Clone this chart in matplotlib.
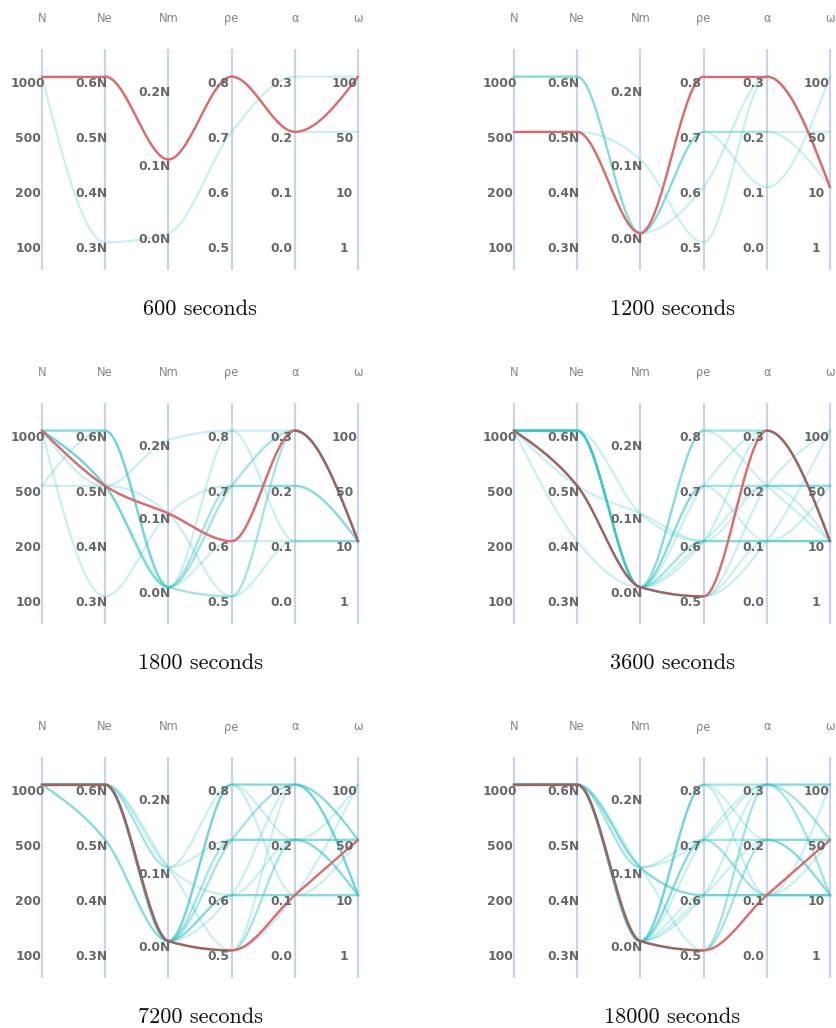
import numpy as np
import matplotlib.pyplot as plt

# axes of the parallel plot and their categories (bottom -> top)
axis_names = ['N', 'Ne', 'Nm', 'ρe', 'α', 'ω']
N_levels = ['100', '200', '500', '1000']
Ne_levels = ['0.3N', '0.4N', '0.5N', '0.6N']
Nm_levels = ['0.0N', '0.1N', '0.2N']
rho_levels = ['0.5', '0.6', '0.7', '0.8']
alpha_levels = ['0.0', '0.1', '0.2', '0.3']
omega_levels = ['1', '10', '50', '100']
levels = [N_levels, Ne_levels, Nm_levels, rho_levels, alpha_levels, omega_levels]

captions = ['600 seconds', '1200 seconds', '1800 seconds',
            '3600 seconds', '7200 seconds', '18000 seconds']

# best trial of each budget (highlighted)
best_600 = ('1000', '0.6N', '0.1N', '0.8', '0.2', '100')
best_1200 = ('500', '0.5N', '0.0N', '0.8', '0.3', '10')
best_1800 = ('1000', '0.5N', '0.1N', '0.6', '0.3', '10')
best_3600 = ('1000', '0.5N', '0.0N', '0.5', '0.3', '10')
best_7200 = ('1000', '0.6N', '0.0N', '0.5', '0.1', '50')
best_18000 = ('1000', '0.6N', '0.0N', '0.5', '0.1', '50')

# other trials
trials_600 = [
    ('1000', '0.3N', '0.0N', '0.7', '0.3', '100'),
    ('1000', '0.6N', '0.1N', '0.8', '0.2', '50'),
]
trials_1200 = [
    ('1000', '0.6N', '0.0N', '0.7', '0.2', '50'),
    ('1000', '0.6N', '0.0N', '0.7', '0.1', '100'),
    ('1000', '0.6N', '0.0N', '0.7', '0.2', '10'),
    ('500', '0.5N', '0.1N', '0.5', '0.3', '10'),
    ('500', '0.5N', '0.0N', '0.6', '0.3', '10'),
]
trials_1800 = [
    ('1000', '0.6N', '0.0N', '0.5', '0.3', '10'),
    ('1000', '0.6N', '0.0N', '0.7', '0.3', '10'),
    ('500', '0.6N', '0.0N', '0.7', '0.2', '10'),
    ('1000', '0.5N', '0.0N', '0.5', '0.3', '10'),
    ('1000', '0.5N', '0.0N', '0.7', '0.3', '10'),
    ('1000', '0.5N', '0.0N', '0.8', '0.1', '10'),
    ('500', '0.5N', '0.1N', '0.5', '0.1', '10'),
    ('1000', '0.3N', '0.1N', '0.7', '0.2', '10'),
    ('1000', '0.5N', '0.2N', '0.8', '0.3', '10'),
    ('1000', '0.5N', '0.0N', '0.6', '0.1', '10'),
    ('1000', '0.5N', '0.1N', '0.6', '0.3', '10'),
    ('1000', '0.6N', '0.0N', '0.7', '0.2', '10'),
]
trials_3600 = [
    ('1000', '0.6N', '0.0N', '0.7', '0.2', '50'),
    ('1000', '0.6N', '0.0N', '0.7', '0.2', '50'),
    ('1000', '0.6N', '0.0N', '0.6', '0.1', '10'),
    ('1000', '0.6N', '0.0N', '0.6', '0.1', '10'),
    ('1000', '0.6N', '0.0N', '0.6', '0.3', '10'),
    ('1000', '0.6N', '0.0N', '0.8', '0.2', '10'),
    ('1000', '0.6N', '0.0N', '0.7', '0.1', '50'),
    ('1000', '0.6N', '0.0N', '0.6', '0.2', '10'),
    ('1000', '0.5N', '0.0N', '0.5', '0.2', '100'),
    ('1000', '0.5N', '0.0N', '0.5', '0.1', '10'),
    ('1000', '0.5N', '0.0N', '0.5', '0.1', '100'),
    ('1000', '0.6N', '0.1N', '0.6', '0.1', '10'),
    ('1000', '0.5N', '0.1N', '0.6', '0.2', '50'),
    ('1000', '0.4N', '0.0N', '0.8', '0.3', '10'),
    ('1000', '0.6N', '0.0N', '0.8', '0.3', '10'),
    ('1000', '0.6N', '0.0N', '0.7', '0.3', '10'),
]
trials_7200 = [
    ('1000', '0.5N', '0.0N', '0.8', '0.3', '10'),
    ('1000', '0.5N', '0.0N', '0.8', '0.3', '10'),
    ('1000', '0.5N', '0.0N', '0.7', '0.3', '10'),
    ('1000', '0.6N', '0.0N', '0.7', '0.2', '50'),
    ('1000', '0.6N', '0.0N', '0.7', '0.2', '10'),
    ('1000', '0.6N', '0.0N', '0.6', '0.1', '10'),
    ('1000', '0.6N', '0.0N', '0.6', '0.1', '50'),
    ('1000', '0.6N', '0.0N', '0.6', '0.3', '10'),
    ('1000', '0.6N', '0.0N', '0.5', '0.3', '50'),
    ('1000', '0.6N', '0.0N', '0.5', '0.2', '10'),
    ('1000', '0.6N', '0.0N', '0.5', '0.2', '50'),
    ('1000', '0.6N', '0.0N', '0.8', '0.1', '10'),
    ('1000', '0.6N', '0.0N', '0.7', '0.3', '50'),
    ('1000', '0.6N', '0.1N', '0.8', '0.3', '50'),
    ('1000', '0.6N', '0.1N', '0.7', '0.2', '100'),
    ('1000', '0.6N', '0.1N', '0.6', '0.2', '10'),
    ('1000', '0.6N', '0.1N', '0.5', '0.1', '100'),
    ('1000', '0.6N', '0.0N', '0.8', '0.2', '50'),
    ('1000', '0.6N', '0.0N', '0.6', '0.1', '10'),
]
trials_18000 = [
    ('1000', '0.6N', '0.0N', '0.5', '0.3', '10'),
    ('1000', '0.6N', '0.0N', '0.5', '0.3', '50'),
    ('1000', '0.6N', '0.0N', '0.5', '0.2', '50'),
    ('1000', '0.6N', '0.0N', '0.8', '0.3', '100'),
    ('1000', '0.6N', '0.0N', '0.8', '0.1', '10'),
    ('1000', '0.6N', '0.0N', '0.8', '0.2', '50'),
    ('1000', '0.6N', '0.0N', '0.7', '0.2', '50'),
    ('1000', '0.6N', '0.0N', '0.7', '0.2', '10'),
    ('1000', '0.6N', '0.0N', '0.7', '0.3', '10'),
    ('1000', '0.6N', '0.0N', '0.6', '0.1', '10'),
    ('1000', '0.6N', '0.0N', '0.6', '0.3', '50'),
    ('1000', '0.6N', '0.0N', '0.6', '0.2', '10'),
    ('1000', '0.6N', '0.1N', '0.6', '0.1', '10'),
    ('1000', '0.6N', '0.1N', '0.6', '0.1', '10'),
    ('1000', '0.6N', '0.1N', '0.6', '0.1', '50'),
    ('1000', '0.6N', '0.1N', '0.7', '0.3', '100'),
    ('1000', '0.6N', '0.1N', '0.5', '0.2', '10'),
    ('1000', '0.6N', '0.1N', '0.7', '0.1', '100'),
    ('1000', '0.6N', '0.0N', '0.8', '0.3', '100'),
    ('1000', '0.6N', '0.0N', '0.7', '0.1', '10'),
]

all_trials = [trials_600, trials_1200, trials_1800, trials_3600, trials_7200, trials_18000]
all_best = [best_600, best_1200, best_1800, best_3600, best_7200, best_18000]

CYAN = '#2ec6c8'
RED = '#e06868'
BROWN = '#a65f5b'
AXIS_COLOR = '#c9d4ea'


def to_pos(trial):
    # point scale with padding 0.5, like d3.scalePoint
    return np.array([(levels[i].index(v) + 0.5) / len(levels[i]) for i, v in enumerate(trial)])


def monotone_segments(y, n=30):
    """d3.curveMonotoneX through equally spaced points, one array per segment"""
    s = np.diff(y)
    t = np.zeros(len(y))
    for i in range(1, len(y) - 1):
        s0, s1 = s[i - 1], s[i]
        p = 0.5 * (s0 + s1)
        t[i] = (np.sign(s0) + np.sign(s1)) * min(abs(s0), abs(s1), 0.5 * abs(p))
    t[0] = (3 * s[0] - t[1]) / 2
    t[-1] = (3 * s[-1] - t[-2]) / 2
    u = np.linspace(0, 1, n)
    segs = []
    for i in range(len(y) - 1):
        p0, p1 = y[i], y[i] + t[i] / 3
        p2, p3 = y[i + 1] - t[i + 1] / 3, y[i + 1]
        yy = (1 - u) ** 3 * p0 + 3 * (1 - u) ** 2 * u * p1 + 3 * (1 - u) * u ** 2 * p2 + u ** 3 * p3
        segs.append((i + u, yy))
    return segs


W, H = 836, 1028
fig = plt.figure(figsize=(W / 100, H / 100), dpi=100)

col_x0 = [42, 514]
row_top = [49, 403, 757]
sp = 63.2
axis_h = 221

for k in range(6):
    r, c = divmod(k, 2)
    left = col_x0[c] - 0.8 * sp
    ax = fig.add_axes([left / W, 1 - (row_top[r] + axis_h) / H, 6.6 * sp / W, axis_h / H])
    ax.set_xlim(-0.8, 5.8)
    ax.set_ylim(0, 1)
    ax.axis('off')

    for i in range(6):
        ax.plot([i, i], [0, 1], color=AXIS_COLOR, lw=1.6, zorder=1, solid_capstyle='butt')

    cyan_segs = []
    for trial in all_trials[k]:
        segs = monotone_segments(to_pos(trial))
        cyan_segs.append(segs)
        xs = np.concatenate([s[0] for s in segs])
        ys = np.concatenate([s[1] for s in segs])
        ax.plot(xs, ys, color=CYAN, alpha=0.26, lw=1.6, zorder=2, clip_on=False)

    best_segs = monotone_segments(to_pos(all_best[k]))
    for i, (xs, ys) in enumerate(best_segs):
        shared = sum(np.allclose(cs[i][1], ys, atol=1e-6) for cs in cyan_segs)
        col = BROWN if shared >= 3 else RED
        ax.plot(xs, ys, color=col, lw=1.7, zorder=3, clip_on=False, solid_capstyle='round')

    for i, name in enumerate(axis_names):
        ax.text(i, 1 + 30 / axis_h, name, ha='center', va='center', fontsize=8.3,
                color='#858585', zorder=5)
        n = len(levels[i])
        for j, lab in enumerate(levels[i]):
            ax.text(i - 13.7 / sp, (j + 0.5) / n - 6.5 / axis_h, lab, ha='center', va='center',
                    fontsize=8.8, color='#666666', fontweight='bold', zorder=5)

    ax.text(2.5, -39 / axis_h, captions[k], ha='center', va='center', fontsize=16,
            family='cmr10', color='#111111')

fig.savefig('out.png', dpi=100)
